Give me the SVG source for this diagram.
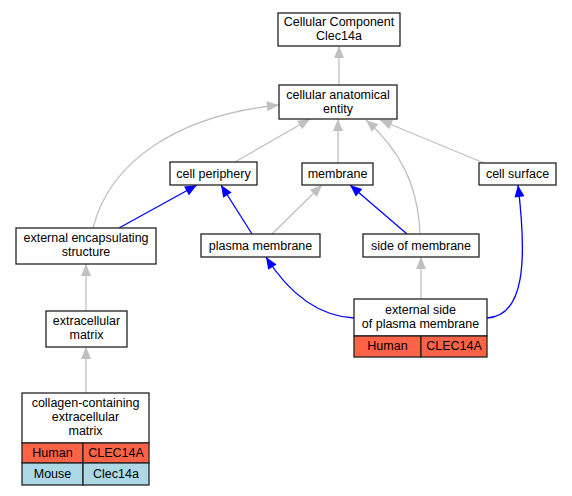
<svg xmlns="http://www.w3.org/2000/svg" width="572" height="496" viewBox="0 0 572 496">
<defs>
<style>
.box{fill:#fff;stroke:#222;stroke-width:1.3}
.hum{fill:#ff6347;stroke:#222;stroke-width:1.3}
.mou{fill:#add8e6;stroke:#222;stroke-width:1.3}
text{font-family:"Liberation Sans",Arial,sans-serif;font-size:12.5px;fill:#000;text-anchor:middle}
.g{fill:none;stroke:#c0c0c0;stroke-width:1.3;marker-end:url(#ag)}
.b{fill:none;stroke:#0000ff;stroke-width:1.3;marker-end:url(#ab)}
</style>
<marker id="ag" markerUnits="userSpaceOnUse" markerWidth="13" markerHeight="11" refX="12" refY="5" orient="auto" overflow="visible"><path d="M0,0 L12,5 L0,10 z" fill="#c0c0c0"/></marker>
<marker id="ab" markerUnits="userSpaceOnUse" markerWidth="13" markerHeight="11" refX="12" refY="5" orient="auto" overflow="visible"><path d="M0,0 L12,5 L0,10 z" fill="#0000ff"/></marker>
</defs>
<rect width="572" height="496" fill="#fff"/>
<g id="edges">
<path class="g" d="M339,85 L339,46"/>
<path class="g" d="M235,162 L310,119"/>
<path class="g" d="M338,163 L338,119"/>
<path class="g" d="M484,163 L380,120"/>
<path class="g" d="M420,234 C418,185 400,150 366,120"/>
<path class="g" d="M93,228 C110,160 180,115 279,105"/>
<path class="b" d="M119,228 L197,185"/>
<path class="b" d="M252,234 L221,185"/>
<path class="g" d="M272,234 L322,185"/>
<path class="b" d="M407,234 L350,185"/>
<path class="b" d="M354,318 C320,316 290,295 266,257"/>
<path class="g" d="M421,299 L421,257"/>
<path class="b" d="M487,318 C525,316 527,260 518,185"/>
<path class="g" d="M86,311 L86,264"/>
<path class="g" d="M86,393 L86,347"/>
</g>
<g id="cc_clec14a">
<rect class="box" x="278" y="13" width="122" height="33"/>
<text x="339" y="26">Cellular Component</text>
<text x="339" y="40">Clec14a</text>
</g>
<g id="cellular_anatomical_entity">
<rect class="box" x="279" y="85" width="118" height="34"/>
<text x="338" y="98.5">cellular anatomical</text>
<text x="338" y="112.5">entity</text>
</g>
<g id="cell_periphery">
<rect class="box" x="170" y="162" width="87" height="23"/>
<text x="213.5" y="178">cell periphery</text>
</g>
<g id="membrane">
<rect class="box" x="302" y="163" width="71" height="22"/>
<text x="337.5" y="178">membrane</text>
</g>
<g id="cell_surface">
<rect class="box" x="479" y="163" width="77" height="22"/>
<text x="517.5" y="178">cell surface</text>
</g>
<g id="external_encapsulating_structure">
<rect class="box" x="16" y="228" width="140" height="36"/>
<text x="86" y="242">external encapsulating</text>
<text x="86" y="256">structure</text>
</g>
<g id="plasma_membrane">
<rect class="box" x="201" y="234" width="119" height="23"/>
<text x="260.5" y="250">plasma membrane</text>
</g>
<g id="side_of_membrane">
<rect class="box" x="363" y="234" width="116" height="23"/>
<text x="421" y="250">side of membrane</text>
</g>
<g id="external_side_of_plasma_membrane">
<rect class="box" x="354" y="299" width="133" height="37"/>
<text x="420.5" y="313.5">external side</text>
<text x="420.5" y="327.5">of plasma membrane</text>
<rect class="hum" x="354" y="336" width="67" height="21"/>
<rect class="hum" x="421" y="336" width="66" height="21"/>
<text x="387.5" y="350">Human</text>
<text x="454" y="350">CLEC14A</text>
</g>
<g id="extracellular_matrix">
<rect class="box" x="46" y="311" width="81" height="36"/>
<text x="86.5" y="325">extracellular</text>
<text x="86.5" y="339">matrix</text>
</g>
<g id="collagen_containing_extracellular_matrix">
<rect class="box" x="22" y="393" width="127" height="50"/>
<text x="85.5" y="407">collagen-containing</text>
<text x="85.5" y="421">extracellular</text>
<text x="85.5" y="435">matrix</text>
<rect class="hum" x="22" y="443" width="61" height="20"/>
<rect class="hum" x="83" y="443" width="66" height="20"/>
<text x="52.5" y="456.5">Human</text>
<text x="116" y="456.5">CLEC14A</text>
<rect class="mou" x="22" y="463" width="61" height="22"/>
<rect class="mou" x="83" y="463" width="66" height="22"/>
<text x="52.5" y="477.5">Mouse</text>
<text x="116" y="477.5">Clec14a</text>
</g>
</svg>
